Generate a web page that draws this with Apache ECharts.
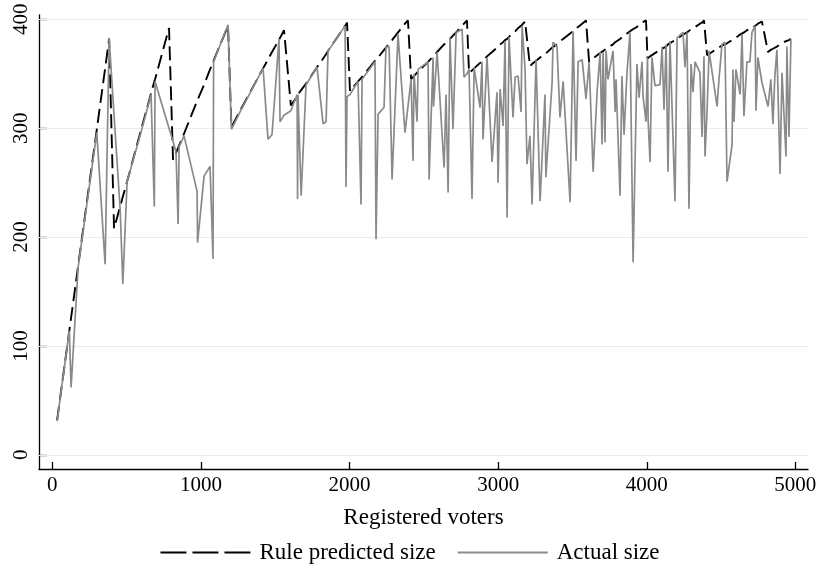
<!DOCTYPE html>
<html>
<head>
<meta charset="utf-8">
<script src="https://cdn.jsdelivr.net/npm/echarts@6/dist/echarts.min.js"></script>
<style>html,body{margin:0;padding:0;background:#fff;}#c{width:820px;height:573px;}</style>
</head>
<body>
<div id="c"></div>
<script>
const voters = [32,114,126,173,299,355,382,415,456,474,
503,590,664,686,691,785,812,832,846,853,
886,974,977,1021,1061,1081,1085,1182,1205,1263,
1418,1451,1478,1525,1532,1559,1605,1647,1650,1653,
1674,1707,1781,1822,1842,1855,1970,1976,1983,2003,
2057,2077,2084,2171,2178,2192,2232,2245,2266,2286,
2326,2373,2393,2414,2427,2434,2454,2461,2528,2535,
2562,2565,2589,2636,2649,2663,2676,2696,2717,2757,
2770,2790,2804,2824,2838,2878,2891,2898,2925,2959,
2992,2999,3013,3033,3046,3060,3073,3100,3114,3134,
3154,3161,3181,3194,3214,3228,3255,3282,3315,3321,
3363,3369,3396,3416,3437,3484,3504,3524,3538,3565,
3591,3612,3639,3666,3686,3699,3706,3719,3726,3739,
3773,3787,3793,3820,3833,3847,3867,3887,3908,3934,
3948,3968,3975,3995,4005,4009,4022,4035,4055,4089,
4103,4116,4130,4143,4156,4190,4204,4244,4257,4271,
4284,4298,4311,4325,4358,4372,4385,4392,4406,4419,
4473,4486,4506,4526,4540,4574,4580,4587,4600,4628,
4641,4654,4674,4694,4708,4729,4735,4748,4775,4816,
4835,4849,4862,4876,4897,4910,4937,4943,4957,4970];

const predictedSize = [32,114,126,173,299,355,382,208,228,237,
251,295,332,343,345,392,271,277,282,284,
295,325,326,340,354,360,362,394,301,316,
355,363,370,381,383,390,321,329,330,331,
335,341,356,364,368,371,394,395,397,334,
343,346,347,362,363,365,372,374,378,381,
388,396,399,345,347,348,351,352,361,362,
366,366,370,377,378,380,382,385,388,394,
396,399,351,353,355,360,361,362,366,370,
374,375,377,379,381,382,384,388,389,392,
394,395,398,399,357,359,362,365,368,369,
374,374,377,380,382,387,389,392,393,396,
399,361,364,367,369,370,371,372,373,374,
377,379,379,382,383,385,387,389,391,393,
395,397,397,399,364,364,366,367,369,372,
373,374,375,377,378,381,382,386,387,388,
389,391,392,393,396,397,399,399,367,368,
373,374,376,377,378,381,382,382,383,386,
387,388,390,391,392,394,395,396,398,370,
372,373,374,375,377,378,380,380,381,382];

const actualSize = [31,114,62,172,296,175,383,312,226,157,
251,293,331,228,343,300,288,278,212,283,
293,242,195,256,265,180,361,395,299,315,
355,290,294,382,306,312,316,331,235,331,
238,340,356,304,306,371,394,246,329,331,
343,230,345,361,198,313,319,375,375,253,
386,296,320,345,270,350,306,354,361,253,
365,320,370,264,331,241,383,299,388,391,
347,350,354,235,356,319,361,290,365,269,
333,250,336,302,380,218,384,310,347,348,
315,394,354,267,293,230,363,233,331,255,
342,379,375,310,343,232,389,270,361,363,
327,361,260,334,370,285,370,287,371,345,
371,315,345,238,348,294,351,388,177,359,
328,361,329,306,365,308,269,365,339,340,
375,317,377,260,380,233,383,388,356,388,
226,359,333,361,351,292,366,274,317,371,
320,345,377,379,251,285,354,306,354,331,
386,311,361,361,388,394,316,365,342,320,
345,304,348,372,258,351,274,375,292,382];

const xTicks = [0,1000,2000,3000,4000,5000];
const yTicks = [0,100,200,300,400];
const seriesNames = ['Rule predicted size','Actual size'];
const xTitle = 'Registered voters';

const FONT = '"Liberation Serif", "DejaVu Serif", serif';
const chart = echarts.init(document.getElementById('c'), null, {renderer:'canvas'});
chart.setOption({
  animation: false,
  backgroundColor: '#ffffff',
  grid: {left: 39, right: 12, top: 15, bottom: 104, containLabel: false},
  legend: {
    bottom: 4, left: 'center',
    itemWidth: 90, itemHeight: 2, itemGap: 22,
    textStyle: {fontFamily: FONT, fontSize: 23, color: '#000', padding: [0, 0, 0, 4]},
    data: [
      {name: seriesNames[0], icon: 'path://M0,0h26v2h-26z M32,0h26v2h-26z M64,0h26v2h-26z'},
      {name: seriesNames[1], icon: 'path://M0,0h90v2h-90z'}
    ]
  },
  xAxis: {
    type: 'value', min: -90, max: 5085,
    name: xTitle, nameLocation: 'middle', nameGap: 37,
    nameTextStyle: {fontFamily: FONT, fontSize: 23, color: '#000'},
    axisLine: {show: true, onZero: false, lineStyle: {color: '#000', width: 1.3}},
    axisTick: {show: true, inside: true, length: 7, customValues: xTicks, lineStyle: {color: '#000', width: 1.3}},
    axisLabel: {customValues: xTicks, margin: 6, fontFamily: FONT, fontSize: 21, color: '#000',
      formatter: v => String(v)},
    splitLine: {show: false}
  },
  yAxis: {
    type: 'value', min: -13, max: 404,
    axisLine: {show: true, onZero: false, lineStyle: {color: '#000', width: 1.3}},
    axisTick: {show: true, inside: true, length: 8, customValues: yTicks, lineStyle: {color: '#000', width: 1.3}},
    axisLabel: {customValues: yTicks, rotate: 90, margin: 7, fontFamily: FONT, fontSize: 21, color: '#000',
      formatter: v => String(v)},
    splitLine: {show: false}
  },
  series: [
    {
      name: 'grid', type: 'line', data: [], silent: true,
      markLine: {
        silent: true, symbol: 'none', z: 1, animation: false,
        label: {show: false},
        lineStyle: {color: '#e6eef1', width: 1.2, type: 'solid'},
        data: yTicks.map(v => ({yAxis: v}))
      }
    },
    {
      name: seriesNames[0], type: 'line', z: 3,
      data: voters.map((v, i) => [v, predictedSize[i]]),
      symbol: 'none', showSymbol: false,
      lineStyle: {color: '#000', width: 1.9, type: [14, 6]},
      itemStyle: {color: '#000'}
    },
    {
      name: seriesNames[1], type: 'line', z: 4,
      data: voters.map((v, i) => [v, actualSize[i]]),
      symbol: 'none', showSymbol: false,
      lineStyle: {color: '#8a8a8a', width: 1.7},
      itemStyle: {color: '#8a8a8a'}
    }
  ]
});
</script>
</body>
</html>
